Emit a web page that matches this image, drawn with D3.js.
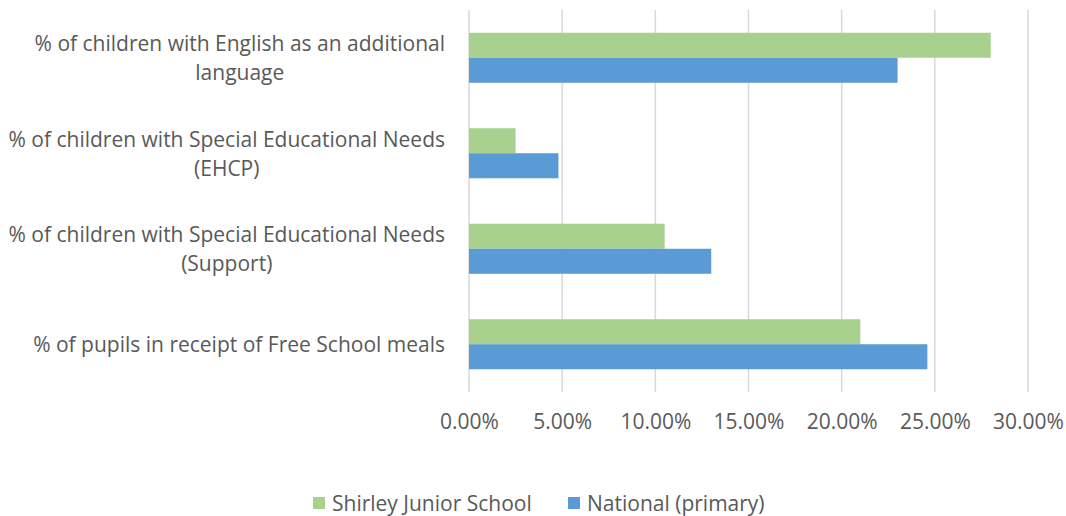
<!DOCTYPE html>
<html>
<head>
<meta charset="utf-8">
<script src="https://cdn.jsdelivr.net/npm/d3@7"></script>
<style>
  body { margin: 0; background: #fff; }
  text { font-family: "Open Sans", sans-serif; fill: #595959; }
</style>
</head>
<body>
<div id="chart"></div>
<script>
// categories, top to bottom, already split into label lines
var categories = [
    ["% of children with English as an additional", "language"],
    ["% of children with Special Educational Needs", "(EHCP)"],
    ["% of children with Special Educational Needs", "(Support)"],
    ["% of pupils in receipt of Free School meals"]
];
var seriesNames = ["Shirley Junior School", "National (primary)"];
var shirley = [0.28, 0.025, 0.105, 0.21];
var national = [0.23, 0.048, 0.13, 0.246];
var tickValues = [0, 0.05, 0.10, 0.15, 0.20, 0.25, 0.30];
var colors = ["#a9d18e", "#5b9bd5"];

var width = 1066, height = 516;
var fontSize = 21;

var svg = d3.select("#chart").append("svg")
    .attr("width", width)
    .attr("height", height);

var xscale = d3.scaleLinear().domain([0, 0.30]).range([469, 1028]);
var yscale = d3.scaleBand().domain(d3.range(categories.length))
    .range([10, 392]).paddingInner(0.476).paddingOuter(0.238);
var sub = d3.scaleBand().domain([0, 1]).range([0, yscale.bandwidth()]);

// gridlines
svg.append("g")
    .selectAll("line")
    .data(tickValues)
    .enter().append("line")
    .attr("x1", function (d) { return xscale(d); })
    .attr("x2", function (d) { return xscale(d); })
    .attr("y1", 10)
    .attr("y2", 392)
    .attr("stroke", "#d9d9d9")
    .attr("stroke-width", 1.5);

// bars
var series = [shirley, national];
series.forEach(function (vals, s) {
    svg.append("g")
        .selectAll("rect")
        .data(vals)
        .enter().append("rect")
        .attr("x", xscale(0))
        .attr("y", function (d, i) { return yscale(i) + sub(s); })
        .attr("width", function (d) { return xscale(d) - xscale(0); })
        .attr("height", sub.bandwidth())
        .attr("fill", colors[s]);
});

// x axis labels
var xaxis = svg.append("g")
    .attr("transform", "translate(0,392)")
    .call(d3.axisBottom(xscale).tickValues(tickValues)
        .tickFormat(d3.format(".2%")).tickSize(0).tickPadding(22));
xaxis.select(".domain").remove();
xaxis.selectAll("text")
    .style("font-size", fontSize + "px")
    .style("font-family", "'Open Sans', sans-serif")
    .attr("fill", "#595959");

// category labels, centred as a block with right edge at 445
var lineH = 29;
categories.forEach(function (lines, i) {
    var g = svg.append("g");
    var cy = yscale(i) + yscale.bandwidth() / 2;
    var texts = g.selectAll("text")
        .data(lines)
        .enter().append("text")
        .attr("text-anchor", "middle")
        .attr("dominant-baseline", "central")
        .style("font-size", fontSize + "px")
        .attr("y", function (d, j) { return cy + (j - (lines.length - 1) / 2) * lineH; })
        .text(function (d) { return d; });
    var maxW = 0;
    texts.each(function () { maxW = Math.max(maxW, this.getComputedTextLength()); });
    texts.attr("x", 445 - maxW / 2);
});

// legend
var legendX = [313, 568];
var legend = svg.append("g");
seriesNames.forEach(function (name, i) {
    legend.append("rect")
        .attr("x", legendX[i])
        .attr("y", 497)
        .attr("width", 12)
        .attr("height", 12)
        .attr("fill", colors[i]);
    legend.append("text")
        .attr("x", legendX[i] + 19)
        .attr("y", 503)
        .attr("dominant-baseline", "central")
        .style("font-size", fontSize + "px")
        .text(name);
});
</script>
</body>
</html>
